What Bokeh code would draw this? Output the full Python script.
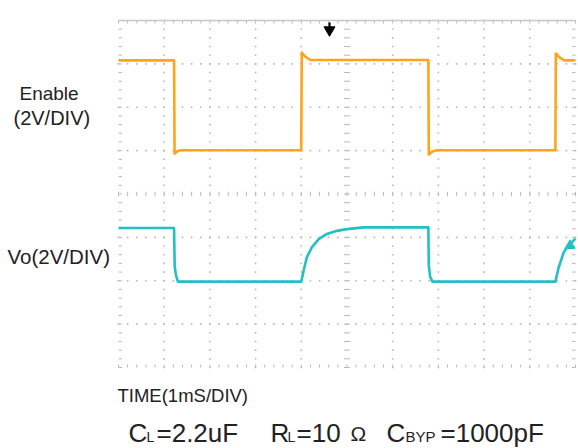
import numpy as np
from bokeh.plotting import figure
from bokeh.models import Range1d, Label
from bokeh.embed import file_html
from bokeh.resources import INLINE

# ---- data (time in ms = divisions, amplitude in screen divisions, 2V/div) ----
enable_t = [0.0, 1.216, 1.227, 1.28, 1.35, 3.998, 4.01, 4.085, 4.2, 6.78, 6.79, 6.87, 6.96,
            9.56, 9.57, 9.65, 9.76, 10.0]
enable_y = [3.08, 3.08, 0.93, 0.98, 1.01, 1.01, 3.26, 3.17, 3.09, 3.09, 0.91, 0.98, 1.01,
            1.01, 3.24, 3.15, 3.08, 3.08]

vo_t = [0.0, 1.216, 1.23, 1.26, 1.30, 4.0, 4.05, 4.12, 4.23, 4.38, 4.56, 4.78, 5.0, 5.36,
        6.78, 6.79, 6.82, 6.87, 9.56, 9.63, 9.74, 9.82, 10.0]
vo_y = [-0.784, -0.784, -1.68, -1.88, -2.02, -2.02, -1.77, -1.46, -1.23, -1.04, -0.92, -0.85,
        -0.81, -0.77, -0.77, -1.65, -1.91, -2.02, -2.02, -1.70, -1.35, -1.22, -1.03]

n_xdiv = 10
n_ydiv = 8

FONT = "Liberation Sans"
ORANGE = "#ffa41b"
CYAN = "#22c0c4"
GRID = "#b8b8b8"

W, H = 578, 448
FL, FT, FW, FH = 118.0, 20.0, 457.0, 347.0  # scope screen in page px
PX_X = FW / n_xdiv
PX_Y = FH / n_ydiv


def px2x(px):
    return (px - FL) / PX_X


def py2y(py):
    return n_ydiv / 2 - (py - FT) / PX_Y


p = figure(width=W, height=H, output_backend="svg", toolbar_location=None,
           x_range=Range1d(px2x(0), px2x(W)), y_range=Range1d(py2y(H), py2y(0)),
           min_border=0, min_border_left=0, min_border_right=0,
           min_border_top=0, min_border_bottom=0)
p.axis.visible = False
p.xgrid.visible = False
p.ygrid.visible = False
p.outline_line_color = None
p.background_fill_color = "white"
p.border_fill_color = "white"

xs_minor = np.arange(0, n_xdiv + 0.001, 0.2)
ys_minor = np.arange(-n_ydiv / 2, n_ydiv / 2 + 0.001, 0.2)

# dotted major grid
gx, gy = [], []
for xv in range(1, n_xdiv):
    if xv == 5:
        continue
    gx += [xv] * len(ys_minor)
    gy += list(ys_minor)
for yv in range(-3, 4):
    if yv == 0:
        continue
    gx += list(xs_minor)
    gy += [yv] * len(xs_minor)
p.scatter(gx, gy, marker="square", size=1.6, color=GRID, line_color=None)

# center axes tick marks
hx = 3 / PX_X
hy = 2.2 / PX_Y
p.segment(x0=[5 - hx] * len(ys_minor), y0=list(ys_minor), x1=[5 + hx] * len(ys_minor),
          y1=list(ys_minor), line_color=GRID, line_width=1)
p.segment(x0=list(xs_minor), y0=[-hy] * len(xs_minor), x1=list(xs_minor),
          y1=[hy] * len(xs_minor), line_color=GRID, line_width=1)
# edge ticks
ex = 3.5 / PX_X
ey = 3 / PX_Y
p.segment(x0=[0] * len(ys_minor), y0=list(ys_minor), x1=[ex] * len(ys_minor),
          y1=list(ys_minor), line_color=GRID, line_width=1)
p.segment(x0=[n_xdiv - ex] * len(ys_minor), y0=list(ys_minor), x1=[n_xdiv] * len(ys_minor),
          y1=list(ys_minor), line_color=GRID, line_width=1)
p.segment(x0=list(xs_minor), y0=[n_ydiv / 2] * len(xs_minor), x1=list(xs_minor),
          y1=[n_ydiv / 2 - ey] * len(xs_minor), line_color=GRID, line_width=1)
p.segment(x0=list(xs_minor), y0=[-n_ydiv / 2] * len(xs_minor), x1=list(xs_minor),
          y1=[-n_ydiv / 2 + ey] * len(xs_minor), line_color=GRID, line_width=1)
# top border line
p.segment(x0=[0], y0=[n_ydiv / 2], x1=[n_xdiv], y1=[n_ydiv / 2], line_color="#c8c8c8",
          line_width=1.5)

# traces
p.line(enable_t, enable_y, line_color=ORANGE, line_width=2.6, line_join="round")
p.line(vo_t, vo_y, line_color=CYAN, line_width=2.6, line_join="round")
p.scatter([vo_t[-2] + 0.06], [vo_y[-2] + 0.03], marker="triangle", size=10, angle=2.1,
          color=CYAN, line_color=CYAN)

# trigger marker
p.segment(x0=[px2x(329)], y0=[py2y(22)], x1=[px2x(329)], y1=[py2y(29)], line_color="black",
          line_width=2.2)
p.scatter([px2x(329)], [py2y(29.5)], marker="inverted_triangle", size=11, color="black")

TXT = "#222222"


def lab(text, px, py, size):
    p.add_layout(Label(x=px2x(px), y=py2y(py), text=text, text_font=FONT,
                       text_font_size=size, text_color=TXT, text_align="left",
                       text_baseline="middle"))


lab("Enable", 19, 93, "19px")
lab("(2V/DIV)", 13, 117, "20px")
lab("Vo(2V/DIV)", 7, 256, "20.5px")
lab("TIME(1mS/DIV)", 117, 395, "18.5px")

MID = 432
SUB = 436.3
lab("C", 128, MID, "26px")
lab("L", 146, SUB, "14px")
lab("=2.2uF", 156, MID, "26px")
lab("R", 270, MID, "26px")
lab("L", 287, SUB, "14px")
lab("=10", 296, MID, "26px")
lab("Ω", 350, MID + 1, "21px")
lab("C", 386, MID, "26px")
lab("BYP", 405, SUB, "15px")
lab("=1000pF", 440, MID, "26px")

open("out.html", "w").write(file_html(p, INLINE))
